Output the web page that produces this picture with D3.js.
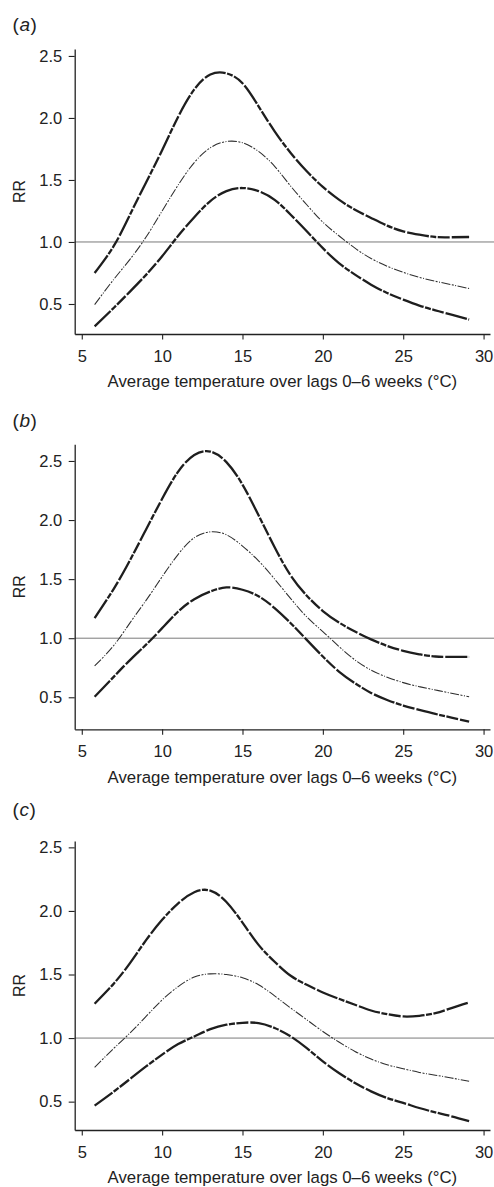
<!DOCTYPE html>
<html>
<head>
<meta charset="utf-8">
<script src="https://cdn.jsdelivr.net/npm/d3@7"></script>
<style>
  html, body { margin: 0; padding: 0; background: #fff; }
  svg { display: block; }
  text { font-family: "Liberation Sans", Arial, Helvetica, sans-serif; fill: #222; }
</style>
</head>
<body>
<svg id="chart" width="494" height="1187"></svg>
<script>
// ---- Data ----
const temps = [5.8, 7, 8, 9, 10, 11, 12, 13, 14, 15, 16, 17, 18, 19, 20, 21, 22, 23, 24, 25, 26, 27, 28, 29.1];

const upperA = [0.75, 0.97, 1.22, 1.48, 1.74, 2.01, 2.23, 2.35, 2.36, 2.28, 2.094, 1.892, 1.718, 1.57, 1.444, 1.341, 1.26, 1.194, 1.132, 1.086, 1.059, 1.04, 1.038, 1.04];
const midA   = [0.495, 0.70, 0.86, 1.04, 1.25, 1.46, 1.64, 1.76, 1.81, 1.80, 1.73, 1.61, 1.45, 1.30, 1.16, 1.05, 0.95, 0.867, 0.804, 0.755, 0.715, 0.683, 0.656, 0.625];
const lowerA = [0.32, 0.47, 0.60, 0.735, 0.885, 1.05, 1.20, 1.33, 1.41, 1.435, 1.41, 1.34, 1.22, 1.086, 0.95, 0.83, 0.737, 0.656, 0.589, 0.535, 0.487, 0.449, 0.414, 0.374];

const upperB = [1.17, 1.42, 1.66, 1.92, 2.18, 2.41, 2.55, 2.58, 2.49, 2.30, 2.04, 1.77, 1.53, 1.36, 1.23, 1.133, 1.056, 0.99, 0.935, 0.893, 0.864, 0.845, 0.842, 0.842];
const midB   = [0.765, 0.94, 1.13, 1.32, 1.52, 1.71, 1.85, 1.90, 1.875, 1.78, 1.655, 1.50, 1.335, 1.18, 1.056, 0.93, 0.816, 0.73, 0.67, 0.624, 0.59, 0.562, 0.534, 0.505];
const lowerB = [0.505, 0.675, 0.815, 0.945, 1.085, 1.226, 1.33, 1.395, 1.43, 1.41, 1.355, 1.255, 1.127, 0.986, 0.845, 0.718, 0.619, 0.537, 0.477, 0.43, 0.393, 0.359, 0.328, 0.294];

const upperC = [1.27, 1.43, 1.59, 1.77, 1.93, 2.06, 2.147, 2.16, 2.07, 1.908, 1.733, 1.60, 1.49, 1.419, 1.359, 1.309, 1.262, 1.217, 1.188, 1.17, 1.175, 1.196, 1.236, 1.28];
const midC   = [0.77, 0.92, 1.04, 1.17, 1.30, 1.405, 1.48, 1.505, 1.50, 1.474, 1.419, 1.332, 1.236, 1.144, 1.052, 0.969, 0.895, 0.835, 0.79, 0.759, 0.73, 0.708, 0.686, 0.66];
const lowerC = [0.469, 0.58, 0.678, 0.777, 0.87, 0.953, 1.013, 1.07, 1.105, 1.12, 1.118, 1.079, 1.013, 0.921, 0.817, 0.725, 0.647, 0.581, 0.529, 0.49, 0.45, 0.416, 0.385, 0.346];

const panelLabels = ["a", "b", "c"];
const xTicks = [5, 10, 15, 20, 25, 30];
const yTicks = [0.5, 1.0, 1.5, 2.0, 2.5];
const xTitle = "Average temperature over lags 0\u20136 weeks (\u00B0C)";
const yTitle = "RR";
const refValue = 1.0;

// ---- Layout ----
const svg = d3.select("#chart");
const xLeft = 74.7, xRight = 490;
const x = d3.scaleLinear().domain([4.56, 30.4]).range([xLeft, xRight]);

const layouts = [
  { top: 49,    bottom: 334,   dom: [0.258, 2.556], labelY: 31.2 },
  { top: 444.3, bottom: 729.3, dom: [0.229, 2.641], labelY: 427 },
  { top: 841,   bottom: 1130,  dom: [0.277, 2.55],  labelY: 815.5 }
];
const series = [
  [upperA, midA, lowerA],
  [upperB, midB, lowerB],
  [upperC, midC, lowerC]
];

const fmt = d3.format(".1f");

layouts.forEach((L, i) => {
  const y = d3.scaleLinear().domain(L.dom).range([L.bottom, L.top]);
  const g = svg.append("g");

  // reference line RR = 1
  g.append("line")
    .attr("x1", xLeft).attr("x2", 494)
    .attr("y1", y(refValue)).attr("y2", y(refValue))
    .attr("stroke", "#7a7a7a").attr("stroke-width", 1);

  // curves
  const line = d3.line()
    .x((d, k) => x(temps[k]))
    .y(d => y(d))
    .curve(d3.curveNatural);

  const [up, mid, low] = series[i];
  [up, low].forEach(arr => {
    g.append("path").attr("d", line(arr))
      .attr("fill", "none").attr("stroke", "#1e1e1e")
      .attr("stroke-width", 2.3)
      .attr("stroke-dasharray", "22,1.5,6,1.5,12,2");
  });
  g.append("path").attr("d", line(mid))
    .attr("fill", "none").attr("stroke", "#2e2e2e")
    .attr("stroke-width", 1.05)
    .attr("stroke-dasharray", "9,1.5,2,1.5,1,1.5");

  // y axis
  const ya = g.append("g").attr("transform", `translate(${xLeft},0)`)
    .call(d3.axisLeft(y).tickValues(yTicks).tickFormat(fmt)
      .tickSize(6).tickPadding(6.5).tickSizeOuter(0));
  // x axis
  const xa = g.append("g").attr("transform", `translate(0,${L.bottom})`)
    .call(d3.axisBottom(x).tickValues(xTicks).tickFormat(d3.format("d"))
      .tickSize(5.5).tickPadding(10.5).tickSizeOuter(0));

  [ya, xa].forEach(a => {
    a.select(".domain").attr("stroke", "#222").attr("stroke-width", 1.3);
    a.selectAll(".tick line").attr("stroke", "#222").attr("stroke-width", 1.1);
    a.selectAll(".tick text")
      .attr("fill", "#222")
      .style("font-family", '"Liberation Sans", Arial, sans-serif')
      .style("font-size", "16.5px");
  });

  // x title
  g.append("text")
    .attr("x", (xLeft + xRight) / 2)
    .attr("y", L.bottom + 53.3)
    .attr("text-anchor", "middle")
    .style("font-size", "16.8px")
    .text(xTitle);

  // y title
  g.append("text")
    .attr("transform", `translate(25,${(L.top + L.bottom) / 2}) rotate(-90)`)
    .attr("text-anchor", "middle")
    .style("font-size", "16px")
    .text(yTitle);

  // panel label
  const pl = g.append("text")
    .attr("x", 12.5).attr("y", L.labelY)
    .style("font-size", "19px")
    .style("letter-spacing", "0.6px");
  pl.append("tspan").text("(");
  pl.append("tspan").style("font-style", "italic").text(panelLabels[i]);
  pl.append("tspan").text(")");
});
</script>
</body>
</html>
